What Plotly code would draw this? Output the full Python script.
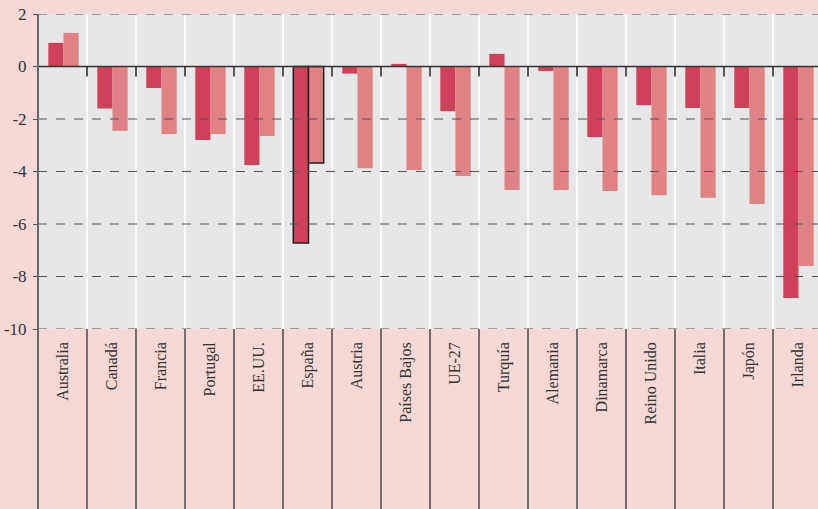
import plotly.graph_objects as go

categories = ["Australia", "Canadá", "Francia", "Portugal", "EE.UU.", "España", "Austria",
              "Países Bajos", "UE-27", "Turquía", "Alemania", "Dinamarca", "Reino Unido",
              "Italia", "Japón", "Irlanda"]
series_a = [0.9, -1.6, -0.82, -2.8, -3.75, -6.72, -0.27, 0.1, -1.7, 0.48, -0.17, -2.69, -1.47, -1.58, -1.58, -8.82]
series_b = [1.28, -2.45, -2.57, -2.57, -2.65, -3.68, -3.88, -3.94, -4.17, -4.7, -4.7, -4.74, -4.9, -5.0, -5.24, -7.6]
y_ticks = [2, 0, -2, -4, -6, -8, -10]
y_tick_labels = ["2", "0", "-2", "-4", "-6", "-8", "-10"]

DARK = "#cf4158"
LIGHT = "#e08284"
PINK = "#f7d8d6"
PLOT = "#e6e7e9"
LINE = "#555555"

n = len(categories)
outline = [1.5 if c == "España" else 0 for c in categories]

fig = go.Figure()
fig.add_trace(go.Bar(x=list(range(n)), y=series_a, offset=-0.29, width=0.31,
                     marker=dict(color=DARK, line=dict(color="#222", width=outline))))
fig.add_trace(go.Bar(x=list(range(n)), y=series_b, offset=0.02, width=0.31,
                     marker=dict(color=LIGHT, line=dict(color="#222", width=outline))))

shapes = []
for i in range(n):
    b = i + 0.5
    shapes.append(dict(type="line", xref="x", yref="y", x0=b, x1=b, y0=-10, y1=2,
                       line=dict(color="white", width=1.5), layer="below"))
    shapes.append(dict(type="line", xref="x", yref="paper", x0=b, x1=b, y0=0, y1=-0.58,
                       line=dict(color="#4a4a4a", width=1.5)))
    shapes.append(dict(type="line", xref="x", yref="y", x0=b, x1=b, y0=0, y1=-0.38,
                       line=dict(color="#555", width=2)))
for v in y_ticks:
    if v != 0:
        shapes.append(dict(type="line", xref="paper", yref="y", x0=0, x1=1, y0=v, y1=v,
                           line=dict(color=LINE, width=1.2, dash="dash")))
shapes.append(dict(type="line", xref="paper", yref="y", x0=0, x1=1, y0=0, y1=0,
                   line=dict(color="#333", width=1.5)))
shapes.append(dict(type="line", xref="paper", yref="paper", x0=0, x1=0, y0=-0.58, y1=1,
                   line=dict(color="#666", width=2)))

fig.update_layout(
    width=818, height=509,
    margin=dict(l=38, r=0, t=14, b=180),
    paper_bgcolor=PINK, plot_bgcolor=PLOT,
    barmode="overlay",
    showlegend=False,
    font=dict(family="Liberation Serif", color="#333", size=15),
    shapes=shapes,
    xaxis=dict(range=[-0.5, n - 0.5 - 4 / 49], tickvals=list(range(n)), ticktext=categories,
               tickangle=-90, showgrid=False, zeroline=False, showline=False, ticks="",
               tickfont=dict(size=16), ticklabelstandoff=9, fixedrange=True),
    yaxis=dict(range=[-10, 2], tickvals=y_ticks, ticktext=y_tick_labels, showgrid=False,
               zeroline=False, showline=False, ticks="outside", ticklen=4, tickcolor="#555",
               tickwidth=1.2, tickfont=dict(size=17), ticklabelstandoff=3, fixedrange=True),
)

fig.write_html("out.html", config={"displayModeBar": False},
               post_script="document.body.style.margin='0';document.body.style.overflow='hidden';")
